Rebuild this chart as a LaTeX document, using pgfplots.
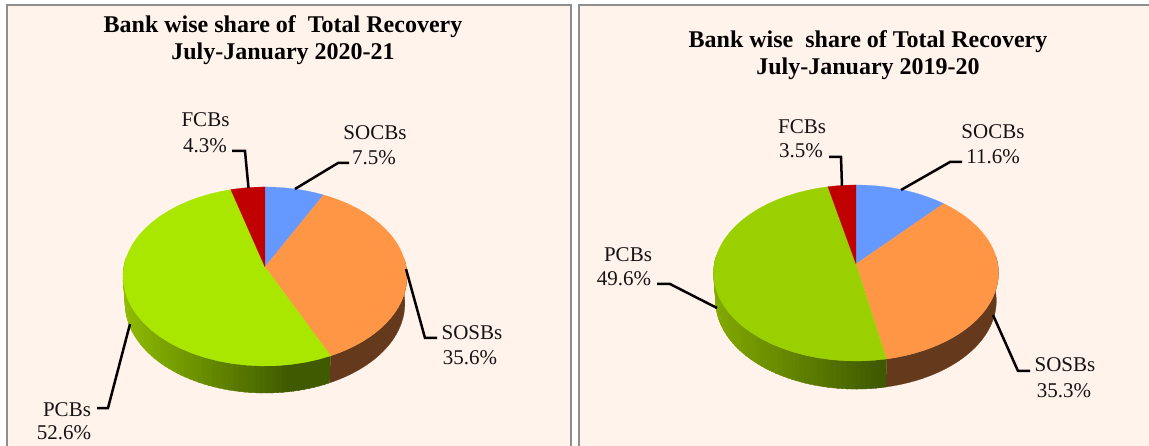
\documentclass[border=0pt]{standalone}
\usepackage{pgfplots}
\pgfplotsset{compat=1.18}
\usepackage{fontspec}
\setmainfont{Liberation Serif}
\definecolor{panelbg}{HTML}{FFF3EB}
\definecolor{panelln}{HTML}{8E8E8E}
\definecolor{cblue}{HTML}{6699FF}
\definecolor{corange}{HTML}{FF9645}
\definecolor{cred}{HTML}{C00000}
\definecolor{cbrown}{HTML}{653A1C}
\definecolor{gdark}{HTML}{3F5A00}
\definecolor{gtopA}{HTML}{A9E600}
\definecolor{gtopB}{HTML}{9BD000}
\definecolor{gsideA}{HTML}{8FBC00}
\definecolor{gsideB}{HTML}{82AA00}
\tikzset{lbl/.style={font=\fontsize{21}{25}\selectfont, inner sep=0pt, anchor=base, text=black!92},
         ttl/.style={font=\fontsize{24}{28}\selectfont\bfseries, inner sep=0pt, anchor=base, text=black}}
% rim point at angle #1, clockwise from the top, seen in perspective
\newcommand\rim[1]{%
  \pgfmathsetmacro\den{1+\kp*cos(#1)}%
  \pgfmathsetmacro\px{\ax+\A*sin(#1)/\den}%
  \pgfmathsetmacro\py{\ay-\B*cos(#1)/\den}%
  \pgfmathsetmacro\qx{\ax+0.985*\A*sin(#1)/\den}%
  \pgfmathsetmacro\qy{\py+\depth}%
}
% one wedge between two cumulative shares (per cent)
\newcommand\piewedge[3]{%
  \pgfmathsetmacro\ta{3.6*#1}\pgfmathsetmacro\tb{3.6*#2}%
  \edef\coords{(\ax,\ay)}%
  \pgfplotsforeachungrouped \i in {0,...,36}{%
    \pgfmathsetmacro\myt{\ta+(\tb-\ta)*\i/36}%
    \rim{\myt}%
    \edef\coords{\coords (\px,\py)}%
  }%
  \edef\temp{\noexpand\addplot[fill=#3,draw=#3,line width=0.2pt,forget plot] coordinates {\coords};}\temp
}
% one strip of the pie's side between two angles
\newcommand\sidestrip[3]{%
  \rim{#1}\let\xa\px\let\ya\py\let\xd\qx\let\yd\qy
  \rim{#2}\let\xb\px\let\yb\py\let\xc\qx\let\yc\qy
  \edef\temp{\noexpand\addplot[fill={#3},draw={#3},line width=0.4pt,forget plot] coordinates {(\xa,\ya)(\xb,\yb)(\xc,\yc)(\xd,\yd)};}\temp
}
% the one-coloured side: top arc forward, bottom arc back
\newcommand\sidepoly[3]{%
  \edef\coords{}\edef\coordsb{}%
  \pgfplotsforeachungrouped \i in {0,...,36}{%
    \pgfmathsetmacro\myt{#1+(#2-#1)*\i/36}%
    \rim{\myt}%
    \edef\coords{\coords (\px,\py)}%
    \edef\coordsb{(\qx,\qy) \coordsb}%
  }%
  \edef\temp{\noexpand\addplot[fill=#3,draw=#3,line width=0.2pt,forget plot] coordinates {\coords \coordsb};}\temp
}
% shares: #1 SOCBs, #2 SOSBs, #3 PCBs, #4 FCBs; #5 top green, #6 light side green
\newcommand\drawpie[6]{%
  \pgfmathsetmacro\cA{#1}\pgfmathsetmacro\cB{#1+#2}\pgfmathsetmacro\cC{#1+#2+#3}%
  \pgfmathsetmacro\tB{3.6*\cB}%
  \sidepoly{85}{\tB}{cbrown}%
  \pgfplotsforeachungrouped \k in {0,...,59}{%
    \pgfmathsetmacro\sa{275-(275-\tB)*(\k+1)/60}\pgfmathsetmacro\sb{275-(275-\tB)*\k/60+0.5}%
    \rim{0.5*\sa+0.5*\sb}\let\xm\px
    \pgfmathsetmacro\myfrac{(\xm-\xleft)/(\xdark-\xleft)}%
    \pgfmathtruncatemacro\pct{min(100,max(0,\myfrac*100))}%
    \sidestrip{\sa}{\sb}{gdark!\pct!#6}%
  }%
  \piewedge{0}{\cA}{cblue}%
  \piewedge{\cA}{\cB}{corange}%
  \piewedge{\cB}{\cC}{#5}%
  \piewedge{\cC}{100}{cred}%
}
\newcommand\leader[1]{\addplot[black,line width=2.5pt,line join=miter,forget plot] coordinates {#1};}
\begin{document}
\begin{tikzpicture}
\path[use as bounding box] (0,0) rectangle (1149pt,446pt);
\begin{axis}[
  at={(0,0)}, anchor=south west,
  scale only axis, width=1149pt, height=446pt,
  xmin=0, xmax=1149, ymin=0, ymax=446, y dir=reverse,
  hide axis, clip=true,
]
% panels
\addplot[fill=panelbg,draw=none,forget plot] coordinates {(7,5)(571,5)(571,450)(7,450)};
\addplot[fill=panelbg,draw=none,forget plot] coordinates {(579,5)(1155,5)(1155,450)(579,450)};
\addplot[panelln,line width=2.4pt,forget plot] coordinates {(7,450)(7,5)(570.7,5)(570.7,450)};
\addplot[panelln,line width=2.4pt,forget plot] coordinates {(578.7,450)(578.7,5)(1155,5)};
% left pie
\def\ax{265}\def\ay{267}\def\A{141.2}\def\B{88.5}\def\kp{0.106}\def\depth{27}\def\xleft{123}\def\xdark{290}
\drawpie{7.5}{35.6}{52.6}{4.3}{gtopA}{gsideA}
% right pie
\def\ax{856}\def\ay{264}\def\A{141.7}\def\B{87.1}\def\kp{0.1025}\def\depth{28}\def\xleft{713}\def\xdark{880}
\drawpie{11.6}{35.3}{49.6}{3.5}{gtopB}{gsideB}
% leaders
\leader{(232,151)(245,151)(248.5,188)}
\leader{(295,189)(338,163)(349,163)}
\leader{(406,269)(425,338)(437,338)}
\leader{(130,324)(108,408)(97,408)}
\leader{(829,157)(841,157)(842,186)}
\leader{(901,190)(950,162)(962,162)}
\leader{(993,315)(1018,371)(1030,371)}
\leader{(717,308)(670,284)(657,284)}
% titles
\node[ttl] at (axis cs:283,33) {Bank wise share of\ \ Total Recovery};
\node[ttl] at (axis cs:283,59.5) {July-January 2020-21};
\node[ttl] at (axis cs:868,48) {Bank wise\ \ share of Total Recovery};
\node[ttl] at (axis cs:868,75) {July-January 2019-20};
% labels
\node[lbl] at (axis cs:205.5,127) {FCBs};
\node[lbl] at (axis cs:205,153) {4.3\%};
\node[lbl] at (axis cs:375,140) {SOCBs};
\node[lbl] at (axis cs:374,165) {7.5\%};
\node[lbl] at (axis cs:472,339.5) {SOSBs};
\node[lbl] at (axis cs:470,364.5) {35.6\%};
\node[lbl] at (axis cs:67,416) {PCBs};
\node[lbl] at (axis cs:64,439) {52.6\%};
\node[lbl] at (axis cs:802,134) {FCBs};
\node[lbl] at (axis cs:801,158) {3.5\%};
\node[lbl] at (axis cs:993,139) {SOCBs};
\node[lbl] at (axis cs:993,164) {11.6\%};
\node[lbl] at (axis cs:1065,372) {SOSBs};
\node[lbl] at (axis cs:1064,397) {35.3\%};
\node[lbl] at (axis cs:628,262) {PCBs};
\node[lbl] at (axis cs:624,286) {49.6\%};
\end{axis}
\end{tikzpicture}
\end{document}
